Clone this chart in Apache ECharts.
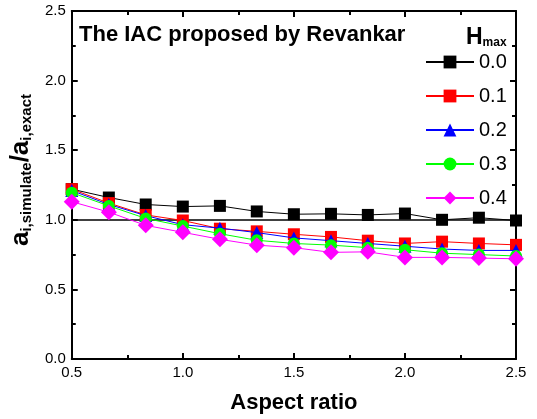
<!DOCTYPE html>
<html>
<head>
<meta charset="utf-8">
<script src="https://cdn.jsdelivr.net/npm/echarts@6/dist/echarts.min.js"></script>
<style>
html,body{margin:0;padding:0;background:#fff;}
#chart{width:537px;height:419px;}
</style>
</head>
<body>
<div id="chart"></div>
<script>
// Aspect ratio (x values)
var aspectRatio = [0.5, 0.667, 0.833, 1.0, 1.167, 1.333, 1.5, 1.667, 1.833, 2.0, 2.167, 2.333, 2.5];
// a_i,simulate / a_i,exact for each Hmax
var h00 = [1.22, 1.16, 1.11, 1.095, 1.10, 1.06, 1.04, 1.043, 1.035, 1.045, 1.0, 1.015, 0.995];
var h01 = [1.22, 1.12, 1.035, 0.995, 0.936, 0.917, 0.896, 0.877, 0.85, 0.83, 0.843, 0.83, 0.82];
var h02 = [1.21, 1.11, 1.03, 0.965, 0.94, 0.908, 0.87, 0.85, 0.83, 0.81, 0.79, 0.78, 0.78];
var h03 = [1.195, 1.10, 1.01, 0.955, 0.90, 0.853, 0.83, 0.818, 0.80, 0.785, 0.76, 0.75, 0.74];
var h04 = [1.13, 1.055, 0.96, 0.91, 0.86, 0.818, 0.80, 0.766, 0.77, 0.73, 0.73, 0.725, 0.72];
var seriesNames = ['0.0', '0.1', '0.2', '0.3', '0.4'];
var referenceValue = 1.0;

function pairs(ys) { return aspectRatio.map(function (x, i) { return [x, ys[i]]; }); }

var FONT = '"Liberation Sans", Arial, sans-serif';
var styles = [
  { color: '#000000', symbol: 'rect', size: 12 },
  { color: '#ff0000', symbol: 'rect', size: 12 },
  { color: '#0000ff', symbol: 'triangle', size: 13 },
  { color: '#00ff00', symbol: 'circle', size: 12 },
  { color: '#ff00ff', symbol: 'diamond', size: 16 }
];
var allData = [h00, h01, h02, h03, h04];

var series = allData.map(function (d, i) {
  var s = {
    name: seriesNames[i],
    type: 'line',
    data: pairs(d),
    symbol: styles[i].symbol,
    symbolSize: styles[i].size,
    itemStyle: { color: styles[i].color },
    lineStyle: { color: styles[i].color, width: 1 },
    emphasis: { disabled: true },
    z: 3 + i,
    animation: false
  };
  if (i === 0) {
    s.markLine = {
      silent: true,
      symbol: 'none',
      label: { show: false },
      lineStyle: { color: '#000', width: 1.5, type: 'solid' },
      data: [{ yAxis: referenceValue }],
      animation: false,
      z: 2
    };
  }
  return s;
});

var axisCommon = {
  axisLine: { show: true, onZero: false, lineStyle: { color: '#000', width: 2 } },
  axisTick: { show: true, inside: true, length: 6, lineStyle: { color: '#000', width: 2 } },
  minorTick: { show: true, splitNumber: 2, length: 4, lineStyle: { color: '#000', width: 2 } },
  splitLine: { show: false },
  minorSplitLine: { show: false }
};

var chart = echarts.init(document.getElementById('chart'), null, { renderer: 'canvas' });
chart.setOption({
  backgroundColor: '#fff',
  animation: false,
  title: [
    {
      text: 'The IAC proposed by Revankar',
      left: 74, top: 19,
      textStyle: { fontFamily: FONT, fontWeight: 'bold', fontSize: 22, color: '#000' }
    },
    {
      text: '{h|H}{s|max}',
      left: 461, top: 16,
      textStyle: {
        fontFamily: FONT,
        rich: {
          h: { fontFamily: FONT, fontWeight: 'bold', fontSize: 23, color: '#000', lineHeight: 28, verticalAlign: 'bottom' },
          s: { fontFamily: FONT, fontWeight: 'bold', fontSize: 12, color: '#000', lineHeight: 28, verticalAlign: 'bottom', padding: [11, 0, 0, 0] }
        }
      }
    }
  ],
  legend: {
    orient: 'vertical',
    left: 420, top: 47,
    itemWidth: 48, itemHeight: 16, itemGap: 14,
    textStyle: { fontFamily: FONT, fontSize: 20, color: '#000' },
    data: seriesNames,
    selectedMode: false
  },
  grid: { left: 69, top: 11, right: 21, bottom: 56, containLabel: false },
  xAxis: [
    Object.assign({}, axisCommon, {
      type: 'value', min: 0.5, max: 2.5, interval: 0.5, position: 'bottom',
      axisLabel: { fontFamily: FONT, fontSize: 15, color: '#000', margin: 6,
        formatter: function (v) { return v.toFixed(1); } },
      name: 'Aspect ratio', nameLocation: 'middle', nameGap: 33,
      nameTextStyle: { fontFamily: FONT, fontWeight: 'bold', fontSize: 22, color: '#000' }
    }),
    Object.assign({}, axisCommon, {
      type: 'value', min: 0.5, max: 2.5, interval: 0.5, position: 'top',
      axisLabel: { show: false }
    })
  ],
  yAxis: [
    Object.assign({}, axisCommon, {
      type: 'value', min: 0, max: 2.5, interval: 0.5, position: 'left',
      axisLabel: { fontFamily: FONT, fontSize: 15, color: '#000', margin: 6,
        formatter: function (v) { return v.toFixed(1); } },
      name: '{a|a}{s|i,simulate}{a|/a}{s|i,exact}',
      nameLocation: 'middle', nameGap: 36, nameRotate: 90,
      nameTextStyle: {
        fontFamily: FONT, color: '#000', padding: [0, 0, 0, 30],
        rich: {
          a: { fontFamily: FONT, fontWeight: 'bold', fontSize: 26, color: '#000', lineHeight: 30, verticalAlign: 'bottom' },
          s: { fontFamily: FONT, fontWeight: 'bold', fontSize: 15, color: '#000', lineHeight: 30, verticalAlign: 'bottom', padding: [10, 0, 0, 0] }
        }
      }
    }),
    Object.assign({}, axisCommon, {
      type: 'value', min: 0, max: 2.5, interval: 0.5, position: 'right',
      axisLabel: { show: false }
    })
  ],
  series: series
});
</script>
</body>
</html>
